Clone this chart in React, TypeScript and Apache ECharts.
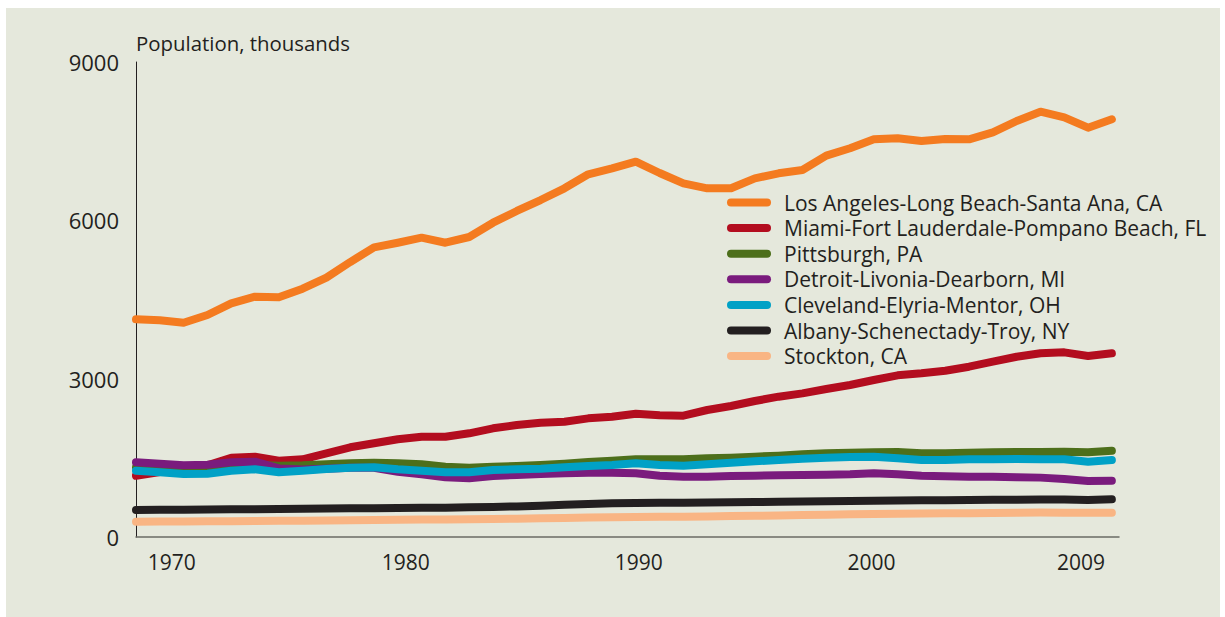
import React, { useEffect, useRef } from "react";
import * as echarts from "echarts";

const years = [1969, 1970, 1971, 1972, 1973, 1974, 1975, 1976, 1977, 1978, 1979, 1980, 1981, 1982, 1983, 1984, 1985, 1986, 1987, 1988, 1989, 1990, 1991, 1992, 1993, 1994, 1995, 1996, 1997, 1998, 1999, 2000, 2001, 2002, 2003, 2004, 2005, 2006, 2007, 2008, 2009, 2010];

const losAngeles = [4125, 4106, 4060, 4206, 4428, 4553, 4542, 4705, 4913, 5210, 5489, 5576, 5671, 5576, 5684, 5955, 6177, 6385, 6607, 6872, 6986, 7111, 6897, 6701, 6607, 6607, 6796, 6891, 6954, 7225, 7365, 7535, 7554, 7503, 7541, 7535, 7668, 7882, 8058, 7952, 7755, 7914];
const miami = [1160, 1230, 1290, 1360, 1500, 1520, 1446, 1472, 1585, 1700, 1775, 1851, 1901, 1901, 1965, 2059, 2122, 2166, 2185, 2248, 2280, 2336, 2306, 2299, 2406, 2482, 2577, 2659, 2722, 2804, 2880, 2975, 3063, 3101, 3151, 3227, 3322, 3416, 3480, 3499, 3429, 3480];
const pittsburgh = [1320, 1330, 1320, 1330, 1350, 1370, 1350, 1358, 1380, 1396, 1408, 1396, 1377, 1332, 1313, 1332, 1345, 1364, 1390, 1420, 1446, 1472, 1472, 1472, 1490, 1503, 1522, 1541, 1566, 1585, 1598, 1604, 1610, 1585, 1585, 1598, 1604, 1610, 1610, 1617, 1604, 1636];
const detroit = [1415, 1389, 1358, 1370, 1415, 1427, 1300, 1280, 1295, 1310, 1310, 1237, 1188, 1131, 1112, 1156, 1175, 1194, 1207, 1219, 1219, 1207, 1162, 1143, 1143, 1156, 1162, 1168, 1175, 1181, 1188, 1207, 1188, 1162, 1150, 1143, 1143, 1131, 1125, 1099, 1061, 1067];
const cleveland = [1257, 1226, 1194, 1200, 1257, 1283, 1226, 1257, 1288, 1313, 1320, 1283, 1257, 1226, 1226, 1270, 1283, 1295, 1320, 1345, 1364, 1396, 1364, 1351, 1377, 1408, 1434, 1459, 1484, 1503, 1516, 1522, 1490, 1459, 1459, 1472, 1472, 1478, 1472, 1472, 1427, 1459];
const albany = [512, 515, 518, 520, 524, 527, 530, 535, 540, 543, 546, 550, 553, 556, 562, 570, 580, 592, 610, 625, 640, 645, 648, 650, 655, 657, 662, 668, 672, 676, 682, 688, 692, 695, 698, 701, 704, 707, 710, 710, 700, 714];
const stockton = [290, 292, 295, 297, 300, 303, 306, 310, 314, 318, 322, 326, 330, 333, 337, 342, 348, 355, 362, 368, 373, 378, 382, 386, 390, 396, 402, 408, 415, 422, 430, 436, 440, 444, 448, 452, 456, 460, 462, 461, 458, 461];

const seriesNames = [
  "Los Angeles-Long Beach-Santa Ana, CA",
  "Miami-Fort Lauderdale-Pompano Beach, FL",
  "Pittsburgh, PA",
  "Detroit-Livonia-Dearborn, MI",
  "Cleveland-Elyria-Mentor, OH",
  "Albany-Schenectady-Troy, NY",
  "Stockton, CA",
];
const seriesValues = [losAngeles, miami, pittsburgh, detroit, cleveland, albany, stockton];
const seriesColors = ["#f47b20", "#b30d1f", "#4d6f1b", "#7a1b7d", "#00a1c6", "#231f20", "#f9b584"];

const xTickLabels = ["1970", "1980", "1990", "2000", "2009"];
const xTickPositions = [1970.5, 1980.33, 1990.12, 1999.9, 2008.7];
const yTicks = [0, 3000, 6000, 9000];

const FONT = "'Open Sans', Roboto, sans-serif";
const TEXT = "#231f20";

export default function App() {
  const ref = useRef<HTMLDivElement>(null);
  useEffect(() => {
    if (!ref.current) return;
    const chart = echarts.init(ref.current, null, { renderer: "svg" });
    chart.setOption({
      animation: false,
      backgroundColor: "transparent",
      textStyle: { fontFamily: FONT },
      title: {
        text: "Population, thousands",
        left: 136,
        top: 31,
        padding: 0,
        textStyle: { fontSize: 20.4, fontWeight: "normal", color: TEXT, fontFamily: FONT, lineHeight: 23 },
      },
      legend: {
        orient: "vertical",
        left: 727,
        top: 192,
        padding: 0,
        itemWidth: 44,
        itemHeight: 8,
        itemGap: 4.6,
        icon: "path://M4,0L40,0A4,4,0,0,1,40,8L4,8A4,4,0,0,1,4,0Z",
        data: seriesNames,
        textStyle: { fontSize: 21, lineHeight: 20, color: TEXT, fontFamily: FONT, padding: [0, 0, 0, 8] },
      },
      grid: { left: 136, right: 106, top: 62, bottom: 80, containLabel: false },
      xAxis: {
        type: "value",
        min: years[0],
        max: 2010.3,
        axisLine: { show: true, lineStyle: { color: "#6a6b64", width: 1.5 } },
        axisTick: { show: false },
        splitLine: { show: false },
        axisLabel: {
          customValues: xTickPositions,
          formatter: (v: number) => {
            let best = 0;
            for (let i = 0; i < xTickPositions.length; i++) {
              if (Math.abs(xTickPositions[i] - v) < Math.abs(xTickPositions[best] - v)) best = i;
            }
            return xTickLabels[best];
          },
          margin: 14,
          fontSize: 21,
          color: TEXT,
          fontFamily: FONT,
        },
      },
      yAxis: {
        type: "value",
        min: yTicks[0],
        max: yTicks[yTicks.length - 1],
        interval: 3000,
        axisLine: { show: true, lineStyle: { color: TEXT, width: 1 } },
        axisTick: { show: false },
        splitLine: { show: false },
        axisLabel: { margin: 17, fontSize: 22, color: TEXT, fontFamily: FONT, formatter: (v: number) => String(v) },
      },
      series: seriesNames.map((name, i) => ({
        name,
        type: "line",
        data: years.map((y, j) => [y, seriesValues[i][j]]),
        showSymbol: false,
        symbol: "none",
        color: seriesColors[i],
        itemStyle: { color: seriesColors[i] },
        lineStyle: { width: 8, color: seriesColors[i], cap: "round", join: "round" },
      })),
    });
    return () => chart.dispose();
  }, []);
  return (
    <div style={{ position: "fixed", left: 0, top: 0, width: 1225, height: 617, background: "#ffffff" }}>
      <div style={{ position: "absolute", left: 6, top: 8, width: 1214, height: 609, background: "#e5e8dc" }} />
      <div ref={ref} style={{ position: "absolute", left: 0, top: 0, width: 1225, height: 617 }} />
    </div>
  );
}
